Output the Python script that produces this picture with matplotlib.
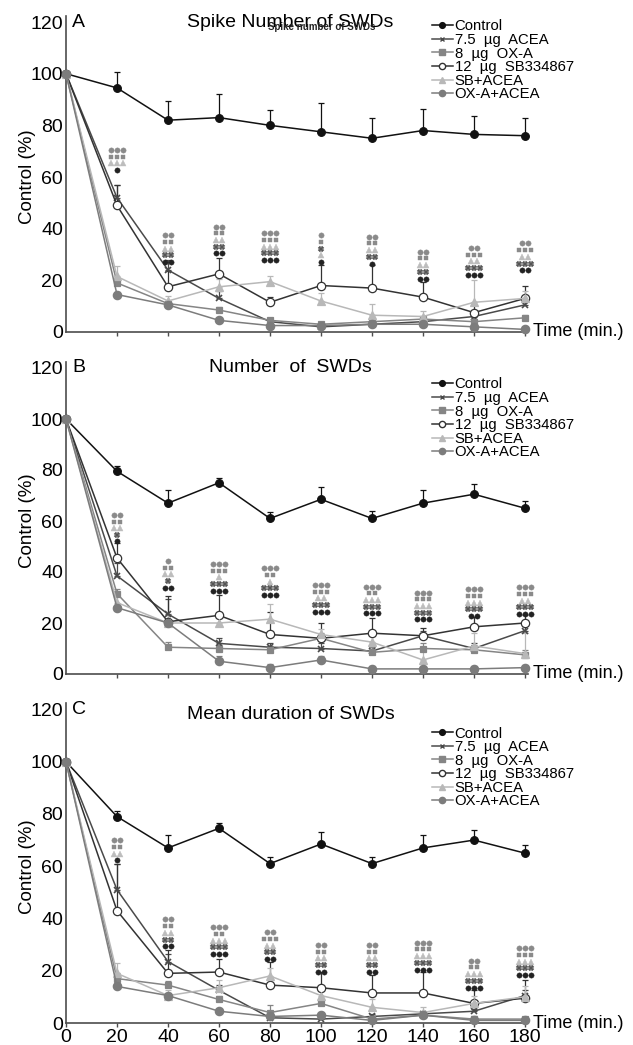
import matplotlib
matplotlib.use("Agg")
import matplotlib.pyplot as plt
import numpy as np

plt.rcParams['font.family'] = ['Liberation Sans', 'DejaVu Sans']

# time points (min.)
t = [0, 20, 40, 60, 80, 100, 120, 140, 160, 180]

labels = ["Control", "7.5  µg  ACEA", "8  µg  OX-A", "12  µg  SB334867", "SB+ACEA", "OX-A+ACEA"]

# panel A - spike number of SWDs
ctrl_A = [100, 94.5, 82, 83, 80, 77.5, 75, 78, 76.5, 76]
ctrl_A_err = [0, 6, 7.5, 9, 6, 11, 8, 8.5, 7, 7]
acea_A = [100, 52, 24, 13, 4, 2, 3, 4, 6, 10.5]
acea_A_err = [0, 5, 4, 3, 1, 1, 1, 1, 1.5, 2]
oxa_A = [100, 19, 11, 8.5, 4.5, 3, 4, 5, 4, 5.5]
oxa_A_err = [0, 2, 1, 1, 1, 1, 1, 1, 1, 1]
sb_A = [100, 49, 17.5, 22.5, 11.5, 18, 17, 13.5, 7.5, 13]
sb_A_err = [0, 8, 6, 6, 2, 8, 9, 6, 3, 5]
sbacea_A = [100, 21.5, 12, 17.5, 19.5, 12, 6.5, 6, 11.5, 13]
sbacea_A_err = [0, 4, 2, 3, 2, 3, 4.5, 2, 8.5, 3]
oxaacea_A = [100, 14.5, 10.5, 4.5, 2.5, 2.5, 3, 3, 2, 1]
oxaacea_A_err = [0, 1, 1, 1, 1, 1, 1, 1, 1, 0.5]

# panel B - number of SWDs
ctrl_B = [100, 79.5, 67, 75, 61, 68.5, 61, 67, 70.5, 65]
ctrl_B_err = [0, 2, 5, 2, 2.5, 5, 3, 5, 4, 3]
acea_B = [100, 38.5, 23.5, 12, 10.5, 10, 9, 15, 10, 17]
acea_B_err = [0, 5, 6, 2, 1.5, 2, 1.5, 2, 2, 3]
oxa_B = [100, 31.5, 10.5, 10, 9.5, 14, 8.5, 10, 9.5, 7.5]
oxa_B_err = [0, 2, 2, 1.5, 1.5, 2, 2, 2, 2, 2]
sb_B = [100, 45.5, 20.5, 23, 15.5, 14, 16, 15, 18.5, 20]
sb_B_err = [0, 6, 10, 8, 9, 6, 6, 3, 4, 3]
sbacea_B = [100, 28, 20, 20, 21.5, 15.5, 12.5, 5.5, 11, 8]
sbacea_B_err = [0, 3, 3, 2, 6, 2, 3, 4, 5, 8]
oxaacea_B = [100, 26, 20, 5, 2.5, 5.5, 2, 2, 2, 2.5]
oxaacea_B_err = [0, 1, 1, 2, 1.5, 1.5, 1, 1, 1, 1]

# panel C - mean duration of SWDs
ctrl_C = [100, 79, 67, 74.5, 61, 68.5, 61, 67, 70, 65]
ctrl_C_err = [0, 2, 5, 2, 2.5, 4.5, 2.5, 5, 4, 3]
acea_C = [100, 51, 23.5, 12.5, 2, 1.5, 2.5, 3.5, 4.5, 10.5]
acea_C_err = [0, 10, 3, 2, 1, 1, 1, 1, 1, 2]
oxa_C = [100, 17, 14.5, 9, 4, 7.5, 1.5, 3, 1.5, 1.5]
oxa_C_err = [0, 2, 1.5, 1.5, 3, 2, 1, 1, 1, 0.5]
sb_C = [100, 43, 19, 19.5, 14.5, 13.5, 11.5, 11.5, 7.5, 9.5]
sb_C_err = [0, 18, 9, 5, 9, 6, 7, 8, 5, 7]
sbacea_C = [100, 19, 10.5, 13.5, 18, 10.5, 6, 4, 7.5, 10]
sbacea_C_err = [0, 4, 2, 3, 3, 3, 3, 2, 3, 4]
oxaacea_C = [100, 14, 10.5, 4.5, 2.5, 3, 1, 3, 1, 1]
oxaacea_C_err = [0, 1, 1, 1, 1, 1, 1, 1, 1, 0.5]

# significance symbols: top of stack and rows (g=OX-A+ACEA, s=OX-A, t=SB+ACEA, x=ACEA, k=control)
sig_t = [20, 40, 60, 80, 100, 120, 140, 160, 180]
sig_A_top = [70.5, 37.5, 40.8, 38.2, 37.5, 36.9, 31.1, 32.6, 34.3]
sig_A_rows = [["g3", "s3", "t3", "k1"], ["g2", "s2", "t2", "x2", "k2"], ["g2", "s2", "t2", "x2", "k2"],
              ["g3", "s3", "t3", "x3", "k3"], ["g1", "s1", "x1", "t1", "k1"], ["g2", "s2", "t2", "x2", "k1"],
              ["g2", "s2", "t2", "x2", "k2"], ["g2", "s3", "t2", "x3", "k3"], ["g2", "s3", "t2", "x3", "k2"]]
sig_B_top = [62.4, 44.3, 43.1, 41.4, 34.9, 34.2, 31.9, 33.2, 34.0]
sig_B_rows = [["g2", "s2", "t2", "x1", "k1"], ["g1", "s2", "t2", "x1", "k2"], ["g3", "s3", "t1", "x3", "k3"],
              ["g3", "s2", "t1", "x3", "k3"], ["g3", "s3", "t2", "x3", "k3"], ["g3", "s2", "t3", "x3", "k3"],
              ["g3", "s3", "t3", "x3", "k3"], ["g3", "s3", "t3", "x3", "k2"], ["g3", "s3", "t2", "x3", "k3"]]
sig_C_top = [70.0, 39.7, 36.7, 34.8, 29.9, 29.9, 30.8, 23.9, 28.7]
sig_C_rows = [["g2", "s2", "t2", "k1"], ["g2", "s2", "t2", "x2", "k2"], ["g3", "s2", "t3", "x3", "k3"],
              ["g2", "s3", "t2", "x2", "k2"], ["g2", "s2", "t2", "x2", "k2"], ["g2", "s2", "t2", "x2", "k2"],
              ["g3", "s3", "t3", "x3", "k3"], ["g2", "s2", "t3", "x3", "k3"], ["g3", "s3", "t3", "x3", "k3"]]

titles = ["Spike Number of SWDs", "Number  of  SWDs", "Mean duration of SWDs"]
letters = ["A", "B", "C"]

# series style: color, marker, face, size
styles = [("#111111", "o", "#111111", 5.5),
          ("#4a4a4a", "x", "#4a4a4a", 4.5),
          ("#858585", "s", "#858585", 5),
          ("#333333", "o", "white", 6),
          ("#b8b8b8", "^", "#b8b8b8", 5.5),
          ("#7c7c7c", "o", "#7c7c7c", 6)]
# stack symbols: marker, colour, size
sym = {"g": ("o", "#8a8a8a", 3.8), "s": ("s", "#8a8a8a", 3.1), "t": ("^", "#bdbdbd", 3.8),
       "x": ("X", "#555555", 3.8), "k": ("o", "#222222", 3.8)}

W, H = 633, 1045
fig = plt.figure(figsize=(W / 100, H / 100), dpi=100)

# axes pixel geometry: y pixel of value 0, px per unit
geo = [(332, 2.583), (674, 2.55), (1023, 2.613)]
x0, xs = 66, 2.55
xmax, ymax = 181, 122.5

data = [
    ([ctrl_A, acea_A, oxa_A, sb_A, sbacea_A, oxaacea_A],
     [ctrl_A_err, acea_A_err, oxa_A_err, sb_A_err, sbacea_A_err, oxaacea_A_err], sig_A_top, sig_A_rows),
    ([ctrl_B, acea_B, oxa_B, sb_B, sbacea_B, oxaacea_B],
     [ctrl_B_err, acea_B_err, oxa_B_err, sb_B_err, sbacea_B_err, oxaacea_B_err], sig_B_top, sig_B_rows),
    ([ctrl_C, acea_C, oxa_C, sb_C, sbacea_C, oxaacea_C],
     [ctrl_C_err, acea_C_err, oxa_C_err, sb_C_err, sbacea_C_err, oxaacea_C_err], sig_C_top, sig_C_rows),
]
legend_top = [19.5, 377.5, 726.5]
title_y = [120, 120, 118]

for p in range(3):
    yb, ys = geo[p]
    ax = fig.add_axes([x0 / W, (H - yb) / H, xmax * xs / W, ymax * ys / H])
    ax.set_xlim(0, xmax)
    ax.set_ylim(0, ymax)
    for s in ["top", "right"]:
        ax.spines[s].set_visible(False)
    for s in ["left", "bottom"]:
        ax.spines[s].set_color("#4d4d4d")
        ax.spines[s].set_linewidth(1.2)
    ax.set_yticks([0, 20, 40, 60, 80, 100, 120])
    ax.tick_params(axis="y", length=0, pad=2, labelsize=14)
    if p == 2:
        ax.set_xticks(t)
        ax.tick_params(axis="x", length=3, width=1, color="#4d4d4d", pad=1, labelsize=14)
    else:
        ax.set_xticks(t[1:])
        ax.tick_params(axis="x", length=3, width=1, color="#4d4d4d", labelbottom=False)

    vals, errs, tops, rows = data[p]
    handles = []
    order = [5, 4, 2, 1, 3, 0]
    for i in order:
        c, m, fc, ms = styles[i]
        y = np.array(vals[i])
        e = np.array(errs[i])
        ax.errorbar(t, y, yerr=[np.zeros_like(e), e], fmt="none", ecolor=c,
                    elinewidth=0.9, capsize=2, capthick=0.9, zorder=2 + i * 0.1)
        ax.plot(t, y, color=c, lw=1.1, marker=m, ms=ms, mfc=fc, mec=c,
                mew=1.2 if m == "x" else 0.9, zorder=3 + i * 0.1, clip_on=False)
    for i in range(6):
        c, m, fc, ms = styles[i]
        h, = ax.plot([], [], color=c, lw=1.1, marker=m, ms=ms * 0.75, mfc=fc, mec=c)
        handles.append(h)

    # significance symbols
    for k, tt in enumerate(sig_t):
        for r, code in enumerate(rows[k]):
            mk, col, sz = sym[code[0]]
            n = int(code[1])
            yy = tops[k] - r * 2.6
            xx = [tt + (j - (n - 1) / 2) * 2.2 for j in range(n)]
            ax.plot(xx, [yy] * n, ls="none", marker=mk, ms=sz, color=col,
                    mec=col, mew=0.3, zorder=6, clip_on=False)

    ax.text(2.5, 120, letters[p], fontsize=14, ha="left", va="center")
    ax.text(88, title_y[p], titles[p], fontsize=14, ha="center", va="center")
    ax.text((533 - x0) / xs, 0, "Time (min.)", fontsize=13, ha="left", va="center", clip_on=False)
    fig.text(28 / W, 1 - (yb - 60 * ys) / H, "Control (%)", rotation=90, fontsize=13.5,
             ha="center", va="center")
    ax.legend(handles, labels, loc="upper left", bbox_to_anchor=(432 / W, 1 - legend_top[p] / H),
              bbox_transform=fig.transFigure, frameon=False, fontsize=10.7, borderpad=0,
              borderaxespad=0, handlelength=1.4, handletextpad=0.12, labelspacing=-0.03)
    if p == 0:
        ax.text((322 - x0) / xs, 118, "Spike number of SWDs", fontsize=7, fontweight="bold",
                ha="center", va="center", color="#222222")

fig.savefig("out.png", dpi=100)
